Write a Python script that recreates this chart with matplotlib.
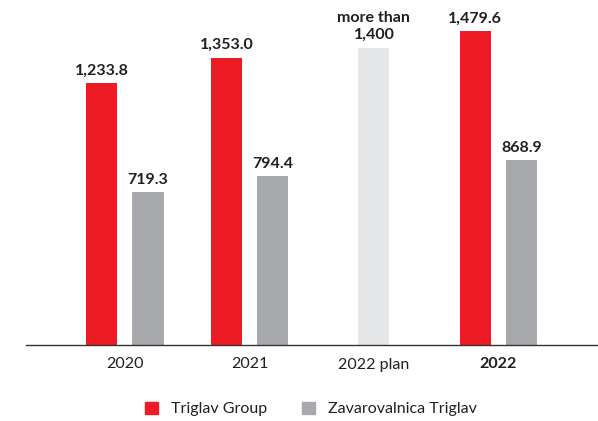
import matplotlib
matplotlib.use('Agg')
import matplotlib.pyplot as plt
from matplotlib.patches import Patch

# data
categories = ['2020', '2021', '2022 plan', '2022']
group_vals = [1233.8, 1353.0, None, 1479.6]
zav_vals = [719.3, 794.4, None, 868.9]
plan_val = 1400.0
group_labels = ['1,233.8', '1,353.0', None, '1,479.6']
zav_labels = ['719.3', '794.4', None, '868.9']
plan_label = 'more than\n1,400'

RED = '#ED1C24'
GREY = '#A7A9AC'
LIGHT = '#E6E7E8'
TXT = '#231F20'

plt.rcParams['font.family'] = ['Lato', 'DejaVu Sans']

W, H = 598, 421
fig = plt.figure(figsize=(W / 100, H / 100), dpi=100)
ax = fig.add_axes([26 / W, (H - 345) / H, (598 - 26) / W, 335 / H])

bw = 0.25
off = 0.185
fs = 11.5
for i, cat in enumerate(categories):
    if group_vals[i] is None:
        ax.bar(i, plan_val, bw, color=LIGHT)
        ax.text(i, plan_val + 25, plan_label, ha='center', va='bottom',
                fontsize=fs, fontweight='bold', color=TXT, linespacing=1.3)
        continue
    ax.bar(i - off, group_vals[i], bw, color=RED)
    ax.bar(i + off, zav_vals[i], bw, color=GREY)
    ax.text(i - off, group_vals[i] + 25, group_labels[i], ha='center', va='bottom',
            fontsize=fs, fontweight='bold', color=TXT)
    ax.text(i + off, zav_vals[i] + 25, zav_labels[i], ha='center', va='bottom',
            fontsize=fs, fontweight='bold', color=TXT)

ax.set_xlim(-0.795, 3.8)
ax.set_ylim(0, 1577)
ax.set_xticks(range(len(categories)))
ax.set_xticklabels(categories, fontsize=fs, color=TXT)
ax.get_xticklabels()[-1].set_fontweight('bold')
ax.tick_params(axis='x', length=0, pad=9)
ax.set_yticks([])
for s in ['top', 'right', 'left']:
    ax.spines[s].set_visible(False)
ax.spines['bottom'].set_color('#333333')
ax.spines['bottom'].set_linewidth(1.0)

handles = [Patch(color=RED, label='Triglav Group'),
           Patch(color=GREY, label='Zavarovalnica Triglav')]
fig.legend(handles=handles, loc='center', bbox_to_anchor=(0.52, 1 - 409 / H),
           ncol=2, frameon=False, fontsize=fs, handlelength=0.8, handleheight=0.8,
           columnspacing=2.2, handletextpad=0.8, labelcolor=TXT)

fig.savefig('out.png', dpi=100)
